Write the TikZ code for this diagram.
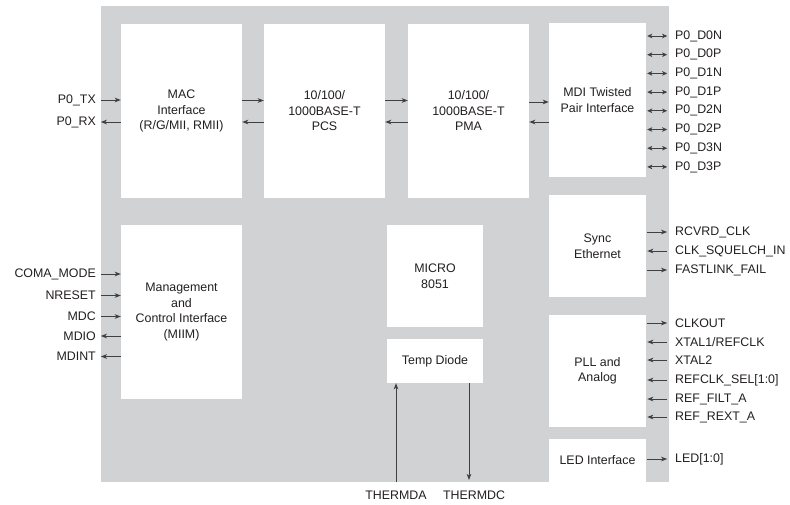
\documentclass[tikz,border=0pt]{standalone}
\usepackage{fontspec}
\setmainfont{Liberation Sans}
\usetikzlibrary{arrows.meta,calc}
\definecolor{bggray}{RGB}{209,210,212}
\definecolor{arrgray}{RGB}{64,64,64}
\definecolor{txt}{RGB}{35,31,32}
\begin{document}
\begin{tikzpicture}[x=1pt,y=-1pt,
  every node/.style={font=\fontsize{12.4}{15.5}\selectfont, text=txt, inner sep=0pt},
  bgbox/.style={fill=bggray, draw=none},
  blk/.style={fill=white, draw=none, align=center},
  lbl/.style={anchor=east},
  rlbl/.style={anchor=west},
  sig/.style={draw=arrgray, line width=1pt, -{Stealth[length=6pt,width=4.5pt,inset=1.5pt]}},
  bi/.style={draw=arrgray, line width=1pt, {Stealth[length=5pt,width=4.5pt,inset=1.2pt]}-{Stealth[length=5pt,width=4.5pt,inset=1.2pt]}}
]
\useasboundingbox (0,0) rectangle (790,504);
\node[bgbox, minimum width=568pt, minimum height=476pt] (bg) at (385,244) {};

% blocks
\node[blk, minimum width=121pt, minimum height=174pt] (mac) at (181.5,111) {MAC\\Interface\\(R/G/MII, RMII)};
\node[blk, minimum width=121pt, minimum height=174pt] (pcs) at (324.5,111) {10/100/\\1000BASE-T\\PCS};
\node[blk, minimum width=121pt, minimum height=174pt] (pma) at (468.5,111) {10/100/\\1000BASE-T\\PMA};
\node[blk, minimum width=97pt, minimum height=154pt] (mdi) at (597.5,100) {MDI Twisted\\Pair Interface};
\node[blk, minimum width=97pt, minimum height=102pt] (sync) at (597.5,246) {Sync\\Ethernet};
\node[blk, minimum width=97pt, minimum height=112pt] (pll) at (597.5,371) {PLL and\\Analog};
\node[blk, minimum width=97pt, minimum height=43pt] (led) at (597.5,460.5) {LED Interface};
\node[blk, minimum width=121pt, minimum height=174pt] (mgmt) at (181.5,312) {Management\\and\\Control Interface\\(MIIM)};
\node[blk, minimum width=96pt, minimum height=102pt] (micro) at (435,276) {MICRO\\8051};
\node[blk, minimum width=96pt, minimum height=44pt] (temp) at (435,361) {Temp Diode};

% left labels
\node[lbl] (ptx) at (96,100) {P0\_TX};
\node[lbl] (prx) at (96,122) {P0\_RX};
\node[lbl] (coma) at (96,274) {COMA\_MODE};
\node[lbl] (nreset) at (96,295.5) {NRESET};
\node[lbl] (mdc) at (96,316.5) {MDC};
\node[lbl] (mdio) at (96,336) {MDIO};
\node[lbl] (mdint) at (96,356.5) {MDINT};

\draw[sig] (bg.west |- ptx) -- (mac.west |- ptx);
\draw[sig] (mac.west |- prx) -- (bg.west |- prx);
\draw[sig] (bg.west |- coma) -- (mgmt.west |- coma);
\draw[sig] (bg.west |- nreset) -- (mgmt.west |- nreset);
\draw[sig] (bg.west |- mdc) -- (mgmt.west |- mdc);
\draw[sig] (mgmt.west |- mdio) -- (bg.west |- mdio);
\draw[sig] (mgmt.west |- mdint) -- (bg.west |- mdint);

% inter-block
\coordinate (tx) at (0,100.5);
\coordinate (rx) at (0,122);
\draw[sig] (mac.east |- tx) -- (pcs.west |- tx);
\draw[sig] (pcs.west |- rx) -- (mac.east |- rx);
\draw[sig] (pcs.east |- tx) -- (pma.west |- tx);
\draw[sig] (pma.west |- rx) -- (pcs.east |- rx);
\coordinate (tx2) at (0,102);
\draw[sig] (pma.east |- tx2) -- (mdi.west |- tx2);
\draw[sig] (mdi.west |- rx) -- (pma.east |- rx);

% MDI right labels
\foreach \n/\t [count=\i from 0] in {d0n/P0\_D0N,d0p/P0\_D0P,d1n/P0\_D1N,d1p/P0\_D1P,d2n/P0\_D2N,d2p/P0\_D2P,d3n/P0\_D3N,d3p/P0\_D3P}{
  \node[rlbl] (\n) at (675,{36+18.7*\i}) {\t};
  \draw[bi, shorten <=1pt, shorten >=2pt] (mdi.east |- \n) -- (bg.east |- \n);
}

% Sync
\node[rlbl] (rcvrd) at (675,232) {RCVRD\_CLK};
\node[rlbl] (squelch) at (675,251) {CLK\_SQUELCH\_IN};
\node[rlbl] (fastlink) at (675,270) {FASTLINK\_FAIL};
\draw[sig, shorten <=1pt, shorten >=2pt] (sync.east |- rcvrd) -- (bg.east |- rcvrd);
\draw[sig, shorten <=2pt, shorten >=1pt] (bg.east |- squelch) -- (sync.east |- squelch);
\draw[sig, shorten <=1pt, shorten >=2pt] (sync.east |- fastlink) -- (bg.east |- fastlink);

% PLL
\node[rlbl] (clkout) at (675,323) {CLKOUT};
\node[rlbl] (xtal1) at (675,342) {XTAL1/REFCLK};
\node[rlbl] (xtal2) at (675,360) {XTAL2};
\node[rlbl] (refsel) at (675,380) {REFCLK\_SEL[1:0]};
\node[rlbl] (reffilt) at (675,399) {REF\_FILT\_A};
\node[rlbl] (refrext) at (675,417) {REF\_REXT\_A};
\draw[sig, shorten <=1pt, shorten >=2pt] (pll.east |- clkout) -- (bg.east |- clkout);
\foreach \n in {xtal1,xtal2,refsel,reffilt,refrext}{
  \draw[sig, shorten <=2pt, shorten >=1pt] (bg.east |- \n) -- (pll.east |- \n);
}

% LED
\node[rlbl] (ledl) at (675,459) {LED[1:0]};
\draw[sig, shorten <=1pt, shorten >=2pt] (led.east |- ledl) -- (bg.east |- ledl);

% Thermal
\node (tda) at (396,495) {THERMDA};
\node (tdc) at (474,495) {THERMDC};
\coordinate (tdcx) at (469,480);
\draw[sig] (bg.south -| tda) -- (temp.south -| tda);
\draw[sig] (temp.south -| tdcx) -- (tdcx);
\end{tikzpicture}
\end{document}
